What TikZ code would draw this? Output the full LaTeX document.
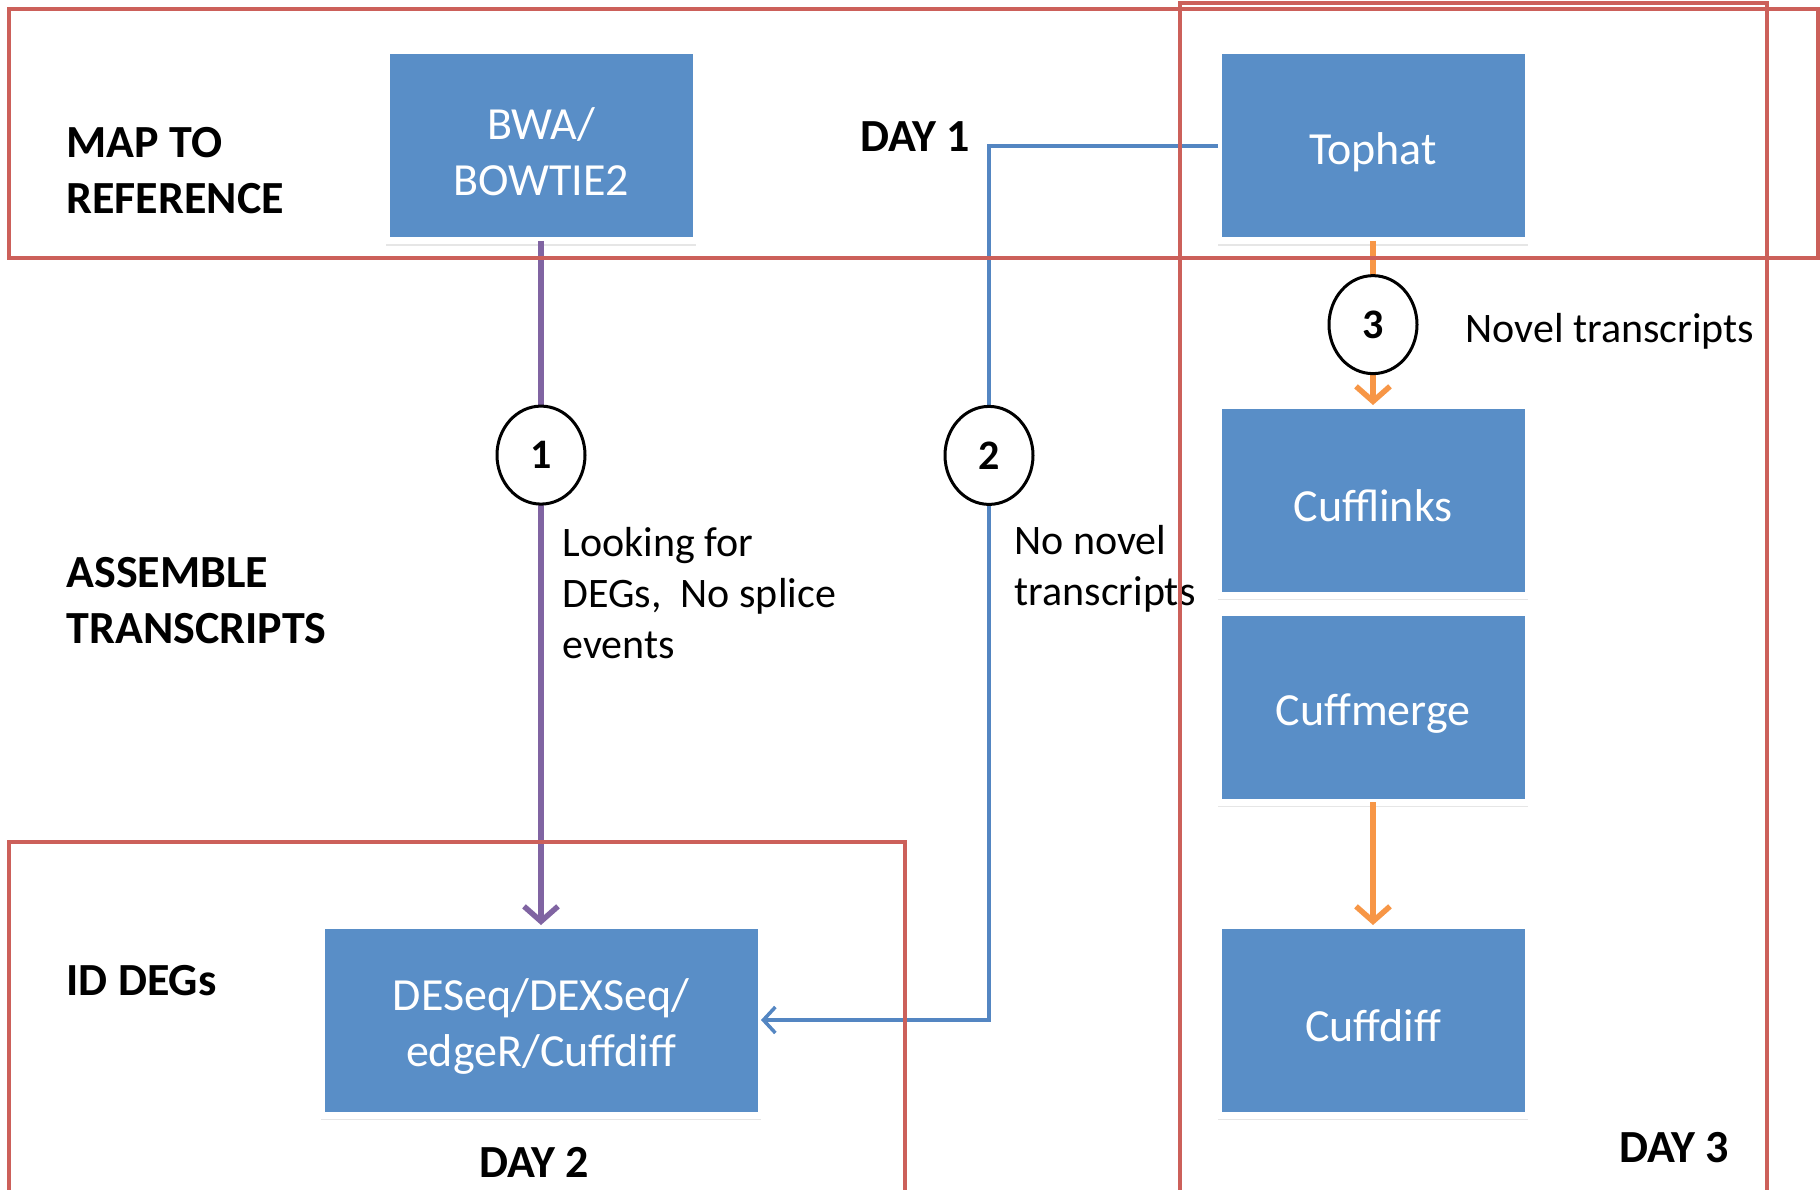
\documentclass[tikz,border=0pt]{standalone}
\usepackage{fontspec}
\setmainfont{Carlito}
\usetikzlibrary{positioning,shapes.geometric,arrows.meta,shadows}

\definecolor{toolblue}{RGB}{89,142,199}
\definecolor{frame}{RGB}{204,96,90}
\definecolor{flowpurple}{RGB}{128,100,162}
\definecolor{flowblue}{RGB}{84,134,194}
\definecolor{floworange}{RGB}{247,150,70}

\newcommand{\toolstrut}{\rule{0pt}{44pt}}

\tikzset{
  tool/.style={rectangle, fill=toolblue, draw=white, line width=7pt, outer sep=0pt,
    minimum width=310pt, minimum height=190pt, text=white, align=center,
    font=\fontsize{46}{56}\selectfont,
    drop shadow={opacity=0.2, shadow xshift=0pt, shadow yshift=-5pt}},
  numcirc/.style={ellipse, draw=black, line width=3pt, fill=white, text=black, inner sep=0pt,
    minimum width=88pt, minimum height=98pt, font=\bfseries\fontsize{42}{50}\selectfont},
  stage/.style={anchor=west, align=left, font=\bfseries\fontsize{46}{56}\selectfont},
  daylabel/.style={font=\bfseries\fontsize{46}{56}\selectfont},
  note/.style={anchor=west, align=left, font=\fontsize{42}{51}\selectfont},
  dayframe/.style={draw=frame, line width=4pt},
}

\begin{document}
\begin{tikzpicture}[x=1pt,y=-1pt]
        \useasboundingbox (0,0) rectangle (1820,1190);
        % Define nodes
        \node[tool] (bwa) at (541,146) {\toolstrut BWA/\\BOWTIE2};
        \node[tool, right=522pt of bwa] (tophat) {\toolstrut Tophat};
        \node[tool, below=164pt of tophat] (cufflinks) {\toolstrut Cufflinks};
        \node[tool, below=17pt of cufflinks] (cuffmerge) {\toolstrut Cuffmerge};
        \node[tool, below=123pt of cuffmerge] (cuffdiff) {\toolstrut Cuffdiff};
        \node[tool, minimum width=440pt, below=684pt of bwa] (deseq) {\toolstrut DESeq/DEXSeq/\\edgeR/Cuffdiff};
        \coordinate[left=229pt of tophat.west] (knee);
        % Stage and day labels
        \node[stage] (map) at (63,171) {MAP TO\\REFERENCE};
        \node[stage] (assemble) at (63,601) {ASSEMBLE\\TRANSCRIPTS};
        \node[stage] (iddegs) at (63,981) {ID DEGs};
        \node[daylabel] (day1) at (915,137) {DAY 1};
        \node[daylabel] (day2) at (534,1162) {DAY 2};
        \node[daylabel] (day3) at (1674,1148) {DAY 3};
        \node[note] (looking) at (559,593) {Looking for\\DEGs,~ No splice\\events};
        \node[note] (nonovel) at (1011,569) {No novel\\transcripts};
        \node[note] (novel) at (1462,331) {Novel transcripts};
        % Connect nodes
        \draw[flowpurple, line width=5.5pt, -{Straight Barb[length=15pt,width=34pt]}]
            (bwa) -- node[numcirc, pos=0.313] (one) {1} (deseq);
        \draw[flowblue, line width=3.5pt, -{Straight Barb[length=12pt,width=26pt]}]
            (tophat.west) -- (knee) |- node[numcirc, pos=0.177] (two) {2} (deseq.east);
        \draw[floworange, line width=5.5pt, -{Straight Barb[length=15pt,width=34pt]}]
            (tophat) -- node[numcirc, pos=0.51] (three) {3} (cufflinks);
        \draw[floworange, line width=5.5pt, -{Straight Barb[length=15pt,width=34pt]}]
            (cuffmerge) -- (cuffdiff);
        % Day frames
        \draw[dayframe] (9,9) rectangle (1818,258);
        \draw[dayframe] (1180,1195) -- (1180,3) -- (1767,3) -- (1767,1195);
        \draw[dayframe] (9,1195) -- (9,842) -- (905,842) -- (905,1195);
    \end{tikzpicture}
\end{document}
